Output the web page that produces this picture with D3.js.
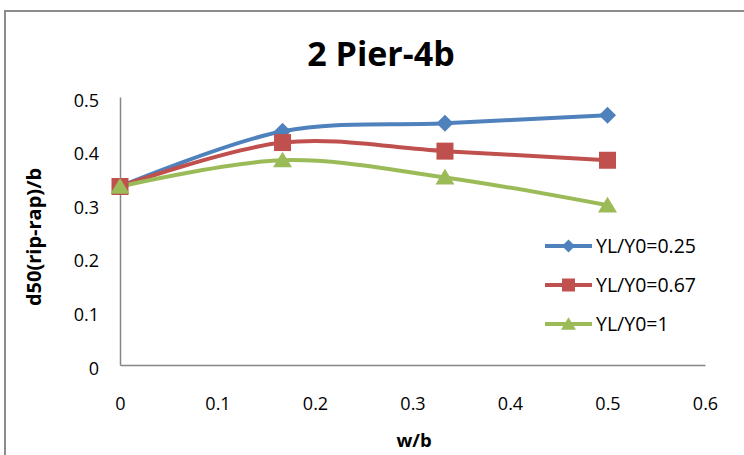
<!DOCTYPE html>
<html>
<head>
<meta charset="utf-8">
<script src="https://cdn.jsdelivr.net/npm/d3@7"></script>
<style>
  body { margin: 0; background: #fff; }
  text { font-family: "Liberation Sans Narrow", "Open Sans", sans-serif; fill: #000; }
</style>
</head>
<body>
<div id="chart"></div>
<script>
// data
let wb = [0, 0.1667, 0.3333, 0.5];
let seriesNames = ["YL/Y0=0.25", "YL/Y0=0.67", "YL/Y0=1"];
let s025 = [0.333, 0.436, 0.451, 0.466];
let s067 = [0.333, 0.415, 0.399, 0.382];
let s1 = [0.333, 0.382, 0.350, 0.298];
let xTicks = [0, 0.1, 0.2, 0.3, 0.4, 0.5, 0.6];
let yTicks = [0, 0.1, 0.2, 0.3, 0.4, 0.5];

let colors = ["#4F81BD", "#C0504D", "#9BBB59"];

// marker shapes like excel's
let diamond = { draw(ctx, r) { ctx.moveTo(0, -r); ctx.lineTo(r, 0); ctx.lineTo(0, r); ctx.lineTo(-r, 0); ctx.closePath(); } };
let square = { draw(ctx, r) { ctx.rect(-r, -r, 2 * r, 2 * r); } };
let triangle = { draw(ctx, r) { ctx.moveTo(0, -r * 0.9); ctx.lineTo(r, r * 0.75); ctx.lineTo(-r, r * 0.75); ctx.closePath(); } };
let shapes = [diamond, square, triangle];
let markerR = [8.5, 8.5, 9.5];
let legendR = [6.5, 6.5, 7.5];

let series = [s025, s067, s1].map(function(vals, i) {
    return { name: seriesNames[i], color: colors[i], shape: shapes[i],
             points: vals.map(function(v, j) { return { x: wb[j], y: v }; }) };
});

let width = 744, height = 455;
let svg = d3.select("#chart").append("svg")
    .attr("width", width)
    .attr("height", height);

// chart frame
svg.append("rect")
    .attr("x", 5).attr("y", 11)
    .attr("width", 760).attr("height", 470)
    .attr("fill", "none")
    .attr("stroke", "#8c8c8c")
    .attr("stroke-width", 2);

let x = d3.scaleLinear().domain([0, 0.6]).range([120, 705]);
let y = d3.scaleLinear().domain([0, 0.5]).range([365, 97]);

// axes
let xAxis = svg.append("g")
    .attr("transform", "translate(0,365)")
    .call(d3.axisBottom(x).tickValues(xTicks).tickSize(0).tickPadding(32).tickFormat(d3.format("")));
let yAxis = svg.append("g")
    .attr("transform", "translate(120,0)")
    .call(d3.axisLeft(y).tickValues(yTicks).tickSize(0).tickPadding(21).tickFormat(d3.format("")));

[xAxis, yAxis].forEach(function(a) {
    a.select(".domain").attr("stroke", "#868686").attr("stroke-width", 1.5);
    a.selectAll("text").style("font-size", "18px").attr("fill", "#000");
});
yAxis.selectAll("text").attr("dy", "0.5em");

// lines
let line = d3.line()
    .x(function(d) { return x(d.x); })
    .y(function(d) { return y(d.y); })
    .curve(d3.curveCardinal.tension(0));

series.forEach(function(s, i) {
    svg.append("path")
        .datum(s.points)
        .attr("fill", "none")
        .attr("stroke", s.color)
        .attr("stroke-width", 4)
        .attr("d", line);
});

series.forEach(function(s, i) {
    svg.selectAll(".m" + i)
        .data(s.points)
        .enter()
        .append("path")
        .attr("class", "m" + i)
        .attr("transform", function(d) { return "translate(" + x(d.x) + "," + y(d.y) + ")"; })
        .attr("d", d3.symbol().type(s.shape).size(markerR[i]))
        .attr("fill", s.color);
});

// titles
svg.append("text")
    .attr("x", 381).attr("y", 66)
    .attr("text-anchor", "middle")
    .style("font-size", "34px")
    .style("font-weight", "bold")
    .text("2 Pier-4b");

svg.append("text")
    .attr("x", 414).attr("y", 447)
    .attr("text-anchor", "middle")
    .style("font-size", "18.5px")
    .style("font-weight", "bold")
    .text("w/b");

svg.append("text")
    .attr("transform", "translate(41,237) rotate(-90)")
    .attr("text-anchor", "middle")
    .style("font-size", "20px")
    .style("font-weight", "bold")
    .text("d50(rip-rap)/b");

// legend
let legend = svg.append("g").attr("transform", "translate(545,246)");
let rows = legend.selectAll("g")
    .data(series)
    .enter()
    .append("g")
    .attr("transform", function(d, i) { return "translate(0," + (i * 39) + ")"; });

rows.append("line")
    .attr("x1", 0).attr("x2", 47)
    .attr("stroke", function(d) { return d.color; })
    .attr("stroke-width", 4);
rows.append("path")
    .attr("transform", "translate(23.5,0)")
    .attr("d", function(d, i) { return d3.symbol().type(d.shape).size(legendR[i])(); })
    .attr("fill", function(d) { return d.color; });
rows.append("text")
    .attr("x", 51)
    .attr("dy", "0.36em")
    .style("font-size", "19.5px")
    .text(function(d) { return d.name; });
</script>
</body>
</html>
